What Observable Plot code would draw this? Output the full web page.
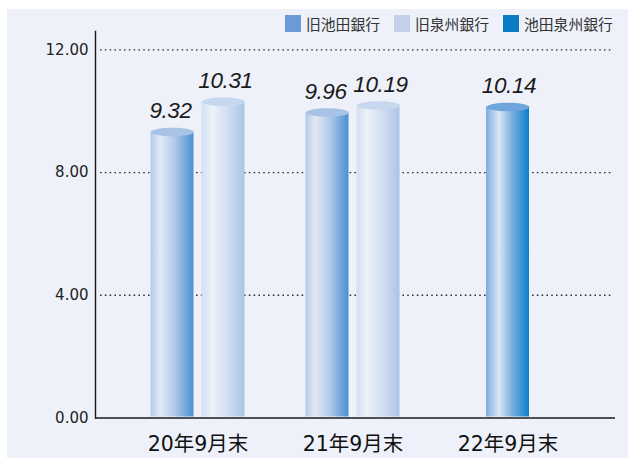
<!DOCTYPE html>
<html>
<head>
<meta charset="utf-8">
<script src="https://cdn.jsdelivr.net/npm/d3@7"></script>
<script src="https://cdn.jsdelivr.net/npm/@observablehq/plot@0.6"></script>
<style>
  html, body { margin: 0; padding: 0; background: #fff; }
  #wrap { position: relative; width: 628px; height: 458px; overflow: hidden; }
  #panel { position: absolute; left: 7px; top: 9px; right: 0; bottom: 0; background: #eef1f9; }
  #chart { position: absolute; left: 0; top: 0; }
  #legend { position: absolute; top: 15px; left: 285px; display: flex; font-family: "Noto Sans CJK JP", sans-serif; font-size: 14.8px; color: #333; line-height: 17px; }
  .item { display: flex; align-items: center; margin-right: 14px; }
  .sw { width: 16px; height: 17px; margin-right: 5px; }
  g[font-style="italic"] text { letter-spacing: -0.4px; }
</style>
</head>
<body>
<div id="wrap">
  <div id="panel"></div>
  <div id="chart"></div>
  <div id="legend"></div>
</div>
<script>
const categories = ["20年9月末", "21年9月末", "22年9月末"];
const seriesNames = ["旧池田銀行", "旧泉州銀行", "池田泉州銀行"];
const ikedaValues = [9.32, 9.96, null];
const senshuValues = [10.31, 10.19, null];
const mergedValues = [null, null, 10.14];
const yTicks = [0, 4, 8, 12];

const legendColors = ["#6b9bd6", "#c2d2ea", "#0a7cc4"];
const gradients = [
  { id: "g0", stops: [["0%", "#b3c9e8"], ["22%", "#e3e9f6"], ["55%", "#b4cbea"], ["100%", "#4a8fd3"]], cap: "#a9c3e6" },
  { id: "g1", stops: [["0%", "#d3def1"], ["25%", "#eef2fa"], ["60%", "#d2def1"], ["100%", "#abc4e6"]], cap: "#c6d7ee" },
  { id: "g2", stops: [["0%", "#7aade0"], ["30%", "#dbe6f5"], ["60%", "#7eb0e2"], ["100%", "#0a7ecb"]], cap: "#6fa5dd" }
];

function rows(vals) {
  return categories.map((c, i) => ({ cat: c, value: vals[i] })).filter(d => d.value != null);
}
const series = [
  { data: rows(ikedaValues), dx: -25.5, tdx: -2 },
  { data: rows(senshuValues), dx: 25.5, tdx: 2 },
  { data: rows(mergedValues), dx: 0, tdx: 1 }
];

const ellipse = {
  draw(ctx, size) {
    const r = Math.sqrt(size / Math.PI), ry = r * 0.2, k = 0.5523;
    ctx.moveTo(-r, 0);
    ctx.bezierCurveTo(-r, -ry * k, -r * k, -ry, 0, -ry);
    ctx.bezierCurveTo(r * k, -ry, r, -ry * k, r, 0);
    ctx.bezierCurveTo(r, ry * k, r * k, ry, 0, ry);
    ctx.bezierCurveTo(-r * k, ry, -r, ry * k, -r, 0);
    ctx.closePath();
  }
};

const marks = [
  Plot.ruleY(yTicks.filter(t => t > 0), { stroke: "#333", strokeWidth: 1.4, strokeDasharray: "1.6,3.2", insetLeft: 5, insetRight: 3 })
];
series.forEach((s, i) => {
  marks.push(Plot.barY(s.data, { x: "cat", y: "value", dx: s.dx, fill: `url(#${gradients[i].id})`, insetBottom: 1 }));
  marks.push(Plot.dot(s.data, { x: "cat", y: "value", dx: s.dx, r: 21.5, symbol: ellipse, fill: gradients[i].cap, stroke: "none" }));
  marks.push(Plot.text(s.data, { x: "cat", y: "value", dx: s.dx + s.tdx, dy: -21, text: d => d.value.toFixed(2), fontSize: 22.5, fontStyle: "italic", fill: "#1a1a1a", fontFamily: "Liberation Sans" }));
});
marks.push(Plot.ruleY([0], { stroke: "#1a1a1a", strokeWidth: 1.6 }));
marks.push(Plot.frame({ anchor: "left", stroke: "#1a1a1a", strokeWidth: 1.4 }));
marks.push(Plot.axisY({ ticks: yTicks, tickFormat: d => d.toFixed(2), tickSize: 0, tickPadding: 7, fontSize: 15, fill: "#222", fontFamily: "DejaVu Sans" }));
marks.push(Plot.axisX({ tickSize: 0, tickPadding: 18, fontSize: 20.5, fill: "#111", fontFamily: "'DejaVu Sans', 'Noto Sans CJK JP'" }));

const chart = Plot.plot({
  width: 628,
  height: 458,
  marginTop: 31,
  marginBottom: 40.5,
  marginLeft: 95,
  marginRight: 13,
  style: { background: "transparent", overflow: "visible" },
  x: { type: "band", domain: categories, range: [119.3, 585.5], paddingInner: 0.7233, paddingOuter: 0.36165, label: null },
  y: { domain: [0, 12.6], label: null },
  marks
});

const svg = d3.select(chart);
const defs = svg.insert("defs", ":first-child");
gradients.forEach(g => {
  const lg = defs.append("linearGradient").attr("id", g.id).attr("x1", "0%").attr("x2", "100%").attr("y1", "0%").attr("y2", "0%");
  g.stops.forEach(([o, c]) => lg.append("stop").attr("offset", o).attr("stop-color", c));
});
document.getElementById("chart").appendChild(chart);

const legend = document.getElementById("legend");
seriesNames.forEach((n, i) => {
  const it = document.createElement("div");
  it.className = "item";
  it.innerHTML = `<div class="sw" style="background:${legendColors[i]}"></div><span>${n}</span>`;
  legend.appendChild(it);
});
</script>
</body>
</html>
